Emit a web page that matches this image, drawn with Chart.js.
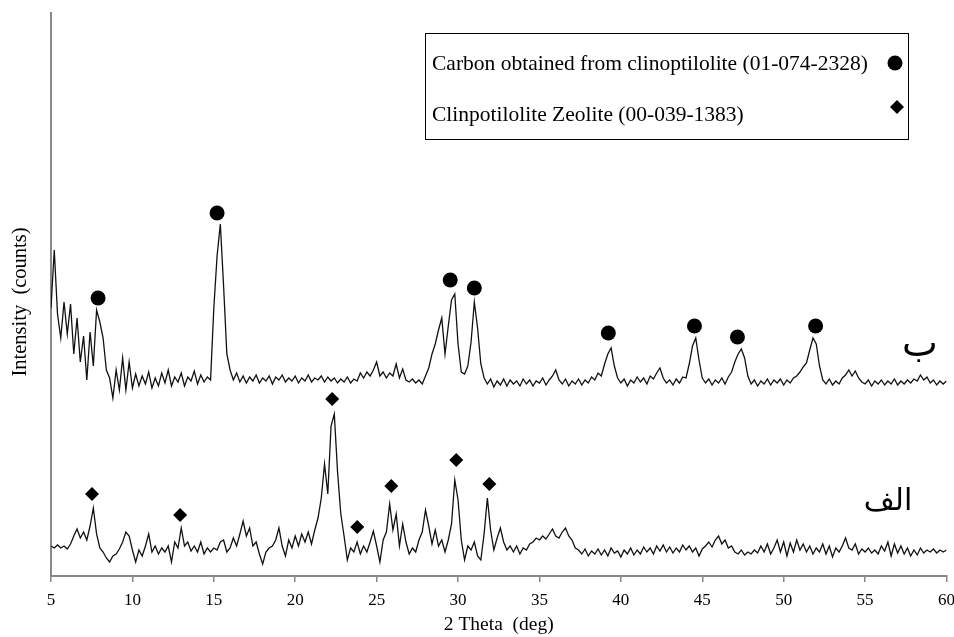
<!DOCTYPE html>
<html>
<head>
<meta charset="utf-8">
<script src="https://cdn.jsdelivr.net/npm/chart.js@4.4.1/dist/chart.umd.min.js"></script>
<style>
  html, body { margin: 0; padding: 0; background: #fff; }
  #wrap { width: 954px; height: 637px; }
</style>
</head>
<body>
<div id="wrap"><canvas id="xrd" width="954" height="637"></canvas></div>
<script>
// scan grid: 2-theta from 5 to 60 deg, one reading every 0.2 deg
const START_DEG = 5;
const STEP_DEG = 0.2;

// upper pattern (ب) - carbon obtained from clinoptilolite
const carbonCounts = [
  268, 326, 262, 238, 274, 242, 272, 222, 258, 214, 240, 196, 244, 210, 266, 254, 238, 206, 198, 178, 206, 186, 218, 186, 214,
  188, 202, 190, 200, 192, 204, 188, 198, 190, 203, 193, 206, 190, 199, 194, 203, 190, 199, 195, 205, 192, 201, 194, 199, 196,
  268, 320, 352, 290, 222, 206, 196, 203, 194, 200, 193, 199, 195, 201, 193, 198, 195, 200, 192, 199, 196, 201, 194, 198, 195,
  200, 193, 198, 195, 201, 194, 198, 196, 200, 194, 199, 195, 198, 193, 197, 194, 199, 193, 197, 195, 203, 198, 204, 200, 206,
  214, 200, 204, 198, 203, 200, 212, 198, 207, 196, 194, 197, 193, 196, 192, 200, 208, 222, 232, 246, 258, 222, 250, 276, 282,
  232, 204, 202, 210, 234, 274, 248, 212, 198, 192, 197, 189, 195, 191, 197, 190, 196, 192, 195, 190, 197, 192, 196, 190, 195,
  193, 198, 191, 196, 200, 206, 196, 192, 197, 190, 195, 192, 197, 191, 196, 193, 199, 196, 203, 200, 212, 222, 228, 210, 198,
  193, 197, 190, 196, 193, 199, 194, 198, 192, 200, 197, 203, 208, 198, 193, 196, 191, 197, 193, 199, 198, 212, 230, 238, 216,
  198, 193, 197, 191, 196, 193, 198, 192, 199, 204, 214, 222, 227, 218, 200, 192, 196, 190, 195, 192, 197, 191, 196, 193, 197,
  191, 196, 193, 198, 200, 204, 209, 213, 226, 238, 232, 210, 196, 192, 197, 191, 195, 192, 198, 201, 206, 200, 205, 198, 194,
  192, 196, 190, 195, 192, 196, 191, 195, 192, 197, 191, 195, 192, 196, 193, 197, 195, 201, 196, 199, 193, 196, 191, 195, 192,
  195
];

// lower pattern (الف) - clinoptilolite zeolite
const zeoliteCounts = [
  30, 28, 31, 28, 30, 27, 32, 40, 47, 38, 44, 36, 50, 68, 42, 28, 24, 18, 14, 20, 22, 27, 34, 44, 40,
  26, 14, 26, 20, 30, 42, 24, 30, 22, 28, 24, 30, 14, 34, 28, 48, 30, 34, 25, 30, 24, 34, 22, 28, 24,
  28, 26, 34, 36, 24, 28, 38, 30, 42, 55, 40, 48, 30, 34, 22, 12, 24, 28, 30, 36, 48, 30, 20, 36, 28,
  40, 30, 42, 34, 44, 32, 46, 58, 78, 112, 82, 150, 162, 104, 62, 40, 16, 28, 24, 34, 22, 30, 24, 34, 45,
  30, 14, 36, 44, 72, 46, 62, 30, 52, 34, 22, 28, 24, 36, 44, 66, 50, 32, 46, 30, 36, 24, 36, 52, 96,
  76, 36, 16, 30, 26, 34, 20, 16, 42, 78, 46, 26, 38, 48, 34, 26, 30, 24, 30, 22, 28, 26, 32, 34, 38,
  36, 40, 37, 42, 47, 40, 38, 44, 48, 40, 36, 28, 26, 22, 27, 20, 25, 22, 27, 21, 26, 20, 28, 23, 25,
  19, 26, 22, 28, 21, 26, 22, 29, 24, 28, 22, 30, 25, 31, 24, 29, 23, 28, 24, 31, 26, 30, 24, 28, 20,
  27, 30, 34, 29, 36, 40, 32, 36, 28, 30, 24, 22, 26, 21, 24, 22, 26, 23, 30, 24, 32, 22, 28, 36, 24,
  34, 20, 33, 24, 36, 26, 32, 24, 30, 22, 28, 24, 32, 22, 30, 19, 28, 24, 30, 38, 28, 26, 32, 22, 27,
  24, 28, 23, 26, 22, 30, 25, 34, 20, 32, 23, 30, 22, 28, 20, 26, 21, 28, 23, 26, 24, 27, 23, 26, 24,
  26
];

// phase markers
const carbonPeakDeg = [7.89, 15.2, 29.52, 31.0, 39.23, 44.52, 47.16, 51.96];
const carbonPeakLevel = [278, 363, 296, 288, 243, 250, 239, 250];
const zeolitePeakDeg = [7.52, 12.93, 22.27, 23.81, 25.9, 29.89, 31.92];
const zeolitePeakLevel = [82, 61, 177, 49, 90, 116, 92];

const xTicks = [5, 10, 15, 20, 25, 30, 35, 40, 45, 50, 55, 60];

const legendItems = [
  "Carbon obtained from clinoptilolite (01-074-2328)",
  "Clinpotilolite Zeolite (00-039-1383)"
];

const SERIF = '"Liberation Serif", "Times New Roman", serif';

function toPoints(counts) {
  return counts.map((c, i) => ({ x: START_DEG + i * STEP_DEG, y: c }));
}

function toMarks(xs, ys) {
  return xs.map((x, i) => ({ x: x, y: ys[i] }));
}

const extras = {
  id: "extras",
  afterDraw(chart) {
    const ctx = chart.ctx;
    ctx.save();

    // y axis title
    ctx.fillStyle = "#000";
    ctx.font = "20.5px " + SERIF;
    ctx.textAlign = "center";
    ctx.textBaseline = "middle";
    ctx.translate(21, 302);
    ctx.rotate(-Math.PI / 2);
    ctx.fillText("Intensity  (counts)", 0, 0);
    ctx.setTransform(1, 0, 0, 1, 0, 0);

    // legend box
    ctx.strokeStyle = "#000";
    ctx.lineWidth = 1;
    ctx.strokeRect(425.5, 33.5, 483, 106);
    ctx.font = "21.5px " + SERIF;
    ctx.textAlign = "left";
    ctx.textBaseline = "middle";
    ctx.fillText(legendItems[0], 432, 64);
    ctx.fillText(legendItems[1], 432, 115);
    ctx.beginPath();
    ctx.arc(895, 63, 7.5, 0, Math.PI * 2);
    ctx.fill();
    ctx.beginPath();
    ctx.moveTo(897, 100);
    ctx.lineTo(904, 107);
    ctx.lineTo(897, 114);
    ctx.lineTo(890, 107);
    ctx.closePath();
    ctx.fill();

    // pattern labels
    ctx.font = '38px "DejaVu Sans", sans-serif';
    ctx.textAlign = "center";
    ctx.textBaseline = "alphabetic";
    ctx.fillText("ب", 920, 356);
    ctx.font = '30px "DejaVu Sans", sans-serif';
    ctx.fillText("الف", 888, 510);

    ctx.restore();
  }
};

new Chart(document.getElementById("xrd"), {
  type: "line",
  data: {
    datasets: [
      {
        label: "carbon",
        data: toPoints(carbonCounts),
        borderColor: "#111",
        borderWidth: 1.3,
        pointRadius: 0,
        tension: 0
      },
      {
        label: "zeolite",
        data: toPoints(zeoliteCounts),
        borderColor: "#111",
        borderWidth: 1.3,
        pointRadius: 0,
        tension: 0
      },
      {
        label: "carbon peaks",
        data: toMarks(carbonPeakDeg, carbonPeakLevel),
        showLine: false,
        pointStyle: "circle",
        pointRadius: 7.5,
        backgroundColor: "#000",
        borderColor: "#000",
        borderWidth: 0
      },
      {
        label: "zeolite peaks",
        data: toMarks(zeolitePeakDeg, zeolitePeakLevel),
        showLine: false,
        pointStyle: "rectRot",
        pointRadius: 7,
        backgroundColor: "#000",
        borderColor: "#000",
        borderWidth: 0
      }
    ]
  },
  options: {
    responsive: false,
    animation: false,
    layout: { padding: { left: 0, right: 7, top: 13, bottom: 0 } },
    plugins: {
      legend: { display: false },
      tooltip: { enabled: false }
    },
    scales: {
      x: {
        type: "linear",
        min: 5,
        max: 60,
        afterBuildTicks: (scale) => {
          scale.ticks = xTicks.map((v) => ({ value: v }));
        },
        afterFit: (scale) => {
          scale.height = 61;
          scale.paddingLeft = 0;
          scale.paddingRight = 0;
        },
        ticks: {
          color: "#000",
          font: { family: SERIF, size: 17 },
          padding: 8,
          maxRotation: 0
        },
        grid: {
          drawOnChartArea: false,
          drawTicks: true,
          tickLength: 6,
          color: "#888",
          lineWidth: 1.5
        },
        border: { color: "#888", width: 2 },
        title: {
          display: true,
          text: "2 Theta  (deg)",
          color: "#000",
          font: { family: SERIF, size: 19.5 },
          padding: { top: 0, bottom: 0 }
        }
      },
      y: {
        min: 0,
        max: 563,
        afterFit: (scale) => {
          scale.width = 51;
        },
        ticks: { display: false },
        grid: { display: false, drawTicks: false },
        border: { color: "#888", width: 2 }
      }
    }
  },
  plugins: [extras]
});
</script>
</body>
</html>
